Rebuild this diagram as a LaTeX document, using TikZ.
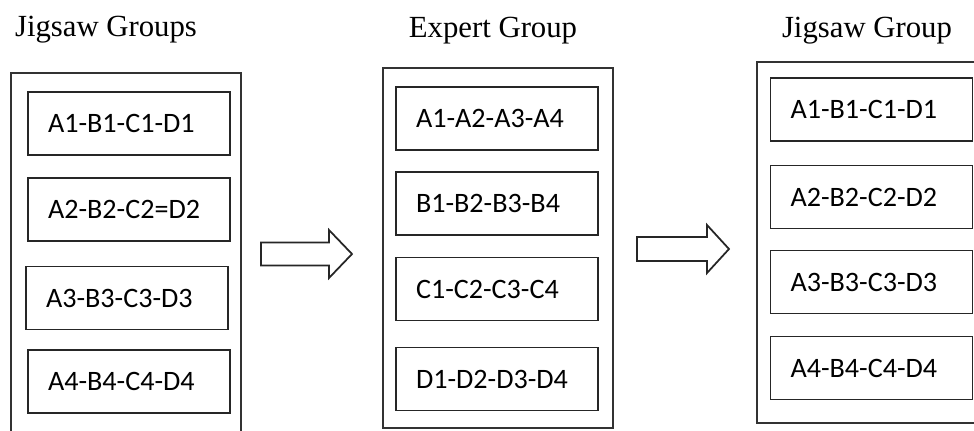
\documentclass[tikz,border=0pt]{standalone}
\usepackage{fontspec}
\setmainfont{Liberation Serif}
\newfontfamily\boxfont{Carlito}
\usetikzlibrary{positioning}

\begin{document}
\begin{tikzpicture}[x=0.02cm,y=-0.02cm,line width=1.1pt,
  panel/.style={draw=black!80,minimum width=4.6cm,inner sep=0pt},
  member/.style={draw=black!85,minimum height=1.26cm,text width=3.24cm,inner xsep=0.4cm,inner ysep=0pt,align=left,font=\boxfont\fontsize{16}{19}\selectfont},
  heading/.style={anchor=base,font=\fontsize{17.5}{21}\selectfont},
  blockarrow/.style={draw=black!85,fill=white,line width=1pt,line join=miter}]
\useasboundingbox (0,0) rectangle (974,430);
%\draw[red] (0,0) rectangle (974,430);

  % the three panels
  \node[panel,minimum height=7.34cm] (jig)    at (126,256.5) {};
  \node[panel,minimum height=7.2cm]  (expert) at (498,248)   {};
  \node[panel,minimum height=7.22cm] (back)   at (872,242.5) {};

  \node[heading] (jigT)    at (106,36) {Jigsaw Groups};
  \node[heading] (expertT) at (493,37) {Expert Group};
  \node[heading] (backT)   at (867,37) {Jigsaw Group};

  % jigsaw groups
  \node[member] (j1) at (129,123.5) {A1-B1-C1-D1};
  \node[member] (j2) at (129,209.5) {A2-B2-C2=D2};
  \node[member] (j3) at (127,298)   {A3-B3-C3-D3};
  \node[member] (j4) at (129,381.5) {A4-B4-C4-D4};

  % expert groups
  \node[member] (e1) at (497,118.5) {A1-A2-A3-A4};
  \node[member] (e2) at (497,203.5) {B1-B2-B3-B4};
  \node[member] (e3) at (497,289)   {C1-C2-C3-C4};
  \node[member] (e4) at (497,379)   {D1-D2-D3-D4};

  % back to jigsaw groups
  \node[member] (b1) at (871.5,109.5) {A1-B1-C1-D1};
  \node[member] (b2) at (871.5,197)   {A2-B2-C2-D2};
  \node[member] (b3) at (871.5,282)   {A3-B3-C3-D3};
  \node[member] (b4) at (871.5,368)   {A4-B4-C4-D4};

  % block arrows
  \draw[blockarrow] (261,242.5) -- (329,242.5) -- (329,230) -- (352,254)
    -- (329,278) -- (329,265.5) -- (261,265.5) -- cycle;
  \draw[blockarrow] (637,237) -- (707,237) -- (707,225) -- (729,249)
    -- (707,273) -- (707,261) -- (637,261) -- cycle;
\end{tikzpicture}
\end{document}
